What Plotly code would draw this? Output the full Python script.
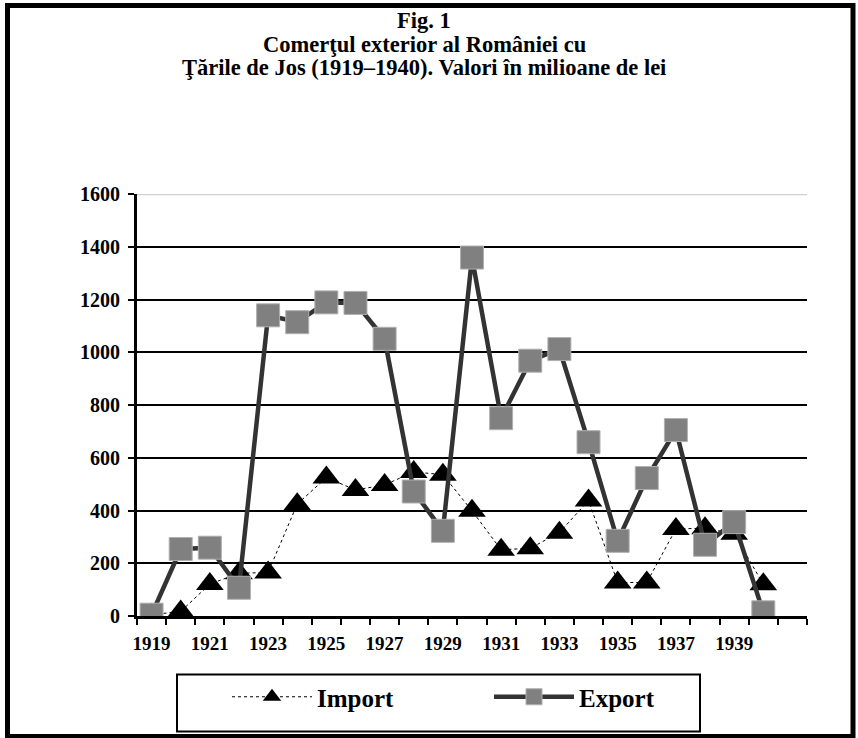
import plotly.graph_objects as go

# ---- data ----
years = list(range(1919, 1941))
import_values = [5, 17, 121, 162, 165, 424, 525, 478, 497, 546, 536, 399,
                 251, 257, 316, 438, 127, 127, 330, 333, 312, 120]
export_values = [5, 254, 259, 107, 1140, 1114, 1189, 1187, 1051, 472, 323, 1359,
                 750, 968, 1012, 659, 285, 523, 705, 270, 356, 14]
tick_years = list(range(1919, 1941, 2))
y_ticks = list(range(0, 1601, 200))
series_names = ["Import", "Export"]
title_lines = ["Fig. 1",
               "Comerţul exterior al României cu",
               "Ţările de Jos (1919–1940). Valori în milioane de lei"]

# ---- layout geometry ----
W, H = 858, 738
ML, MR, MT, MB = 137, 51, 194, 122
PW = W - ML - MR
PH = H - MT - MB


def fx(p):
    return (p - ML) / PW


def fy(p):
    return (H - MB - p) / PH


FONT = "Liberation Serif, Times New Roman, serif"

fig = go.Figure()
fig.add_trace(go.Scatter(
    x=years, y=import_values, name=series_names[0], mode="lines+markers",
    line=dict(color="black", width=1, dash="3px,3px"),
    marker=dict(symbol="triangle-up", size=24, color="black"),
))
fig.add_trace(go.Scatter(
    x=years, y=export_values, name=series_names[1], mode="lines+markers",
    line=dict(color="#333333", width=4.5),
    marker=dict(symbol="square", size=23, color="#808080",
                line=dict(color="#b0b0b0", width=1)),
))

annotations = []
for text, ypx in zip(title_lines, [21, 44, 67]):
    annotations.append(dict(
        text="<b>" + text + "</b>", x=fx(424), y=fy(ypx), xref="paper", yref="paper",
        xanchor="center", yanchor="middle", showarrow=False,
        font=dict(family=FONT, size=22.5, color="black")))

shapes = [
    # outer frame
    dict(type="rect", xref="paper", yref="paper",
         x0=fx(7.5), x1=fx(853), y0=fy(5.5), y1=fy(736.5),
         line=dict(color="black", width=5), layer="above"),
    # legend box
    dict(type="rect", xref="paper", yref="paper",
         x0=fx(177), x1=fx(700), y0=fy(674.5), y1=fy(731.5),
         line=dict(color="black", width=2)),
    # light top border of plot area at 1600
    dict(type="line", xref="paper", yref="y", x0=0, x1=1, y0=1600, y1=1600,
         line=dict(color="#d0d0d0", width=2.5), layer="above"),
]

fig.update_layout(
    width=W, height=H,
    margin=dict(l=ML, r=MR, t=MT, b=MB, pad=0),
    paper_bgcolor="white", plot_bgcolor="white",
    font=dict(family=FONT, color="black"),
    showlegend=True,
    legend=dict(orientation="h", x=fx(227), xanchor="left", y=fy(697), yanchor="middle",
                itemwidth=80, entrywidth=167, entrywidthmode="pixels",
                font=dict(family=FONT, size=25, color="black", weight="bold"),
                bgcolor="rgba(0,0,0,0)", borderwidth=0),
    annotations=annotations,
    shapes=shapes,
)

fig.update_xaxes(
    range=[1918.5, 1941.5], tickmode="array", tickvals=tick_years,
    ticktext=[str(y) for y in tick_years], ticks="",
    showline=True, linecolor="black", linewidth=3, showgrid=False, zeroline=False,
    tickfont=dict(family=FONT, size=19, color="black", weight="bold"),
    ticklabelstandoff=8,
    minor=dict(tick0=1918.5, dtick=1, ticks="outside", ticklen=6, tickwidth=2,
               tickcolor="black", showgrid=False),
)
fig.update_yaxes(
    range=[0, 1600], tickmode="array", tickvals=y_ticks,
    ticks="outside", ticklen=6, tickwidth=2, tickcolor="black",
    showline=True, linecolor="black", linewidth=3,
    showgrid=True, gridcolor="black", gridwidth=2, zeroline=False,
    tickfont=dict(family=FONT, size=20, color="black", weight="bold"),
    ticklabelstandoff=4,
)

fig.write_html("out.html",
               config={"displayModeBar": False, "staticPlot": True},
               post_script="document.body.style.margin='0px';"
                           "document.body.style.overflow='hidden';")
